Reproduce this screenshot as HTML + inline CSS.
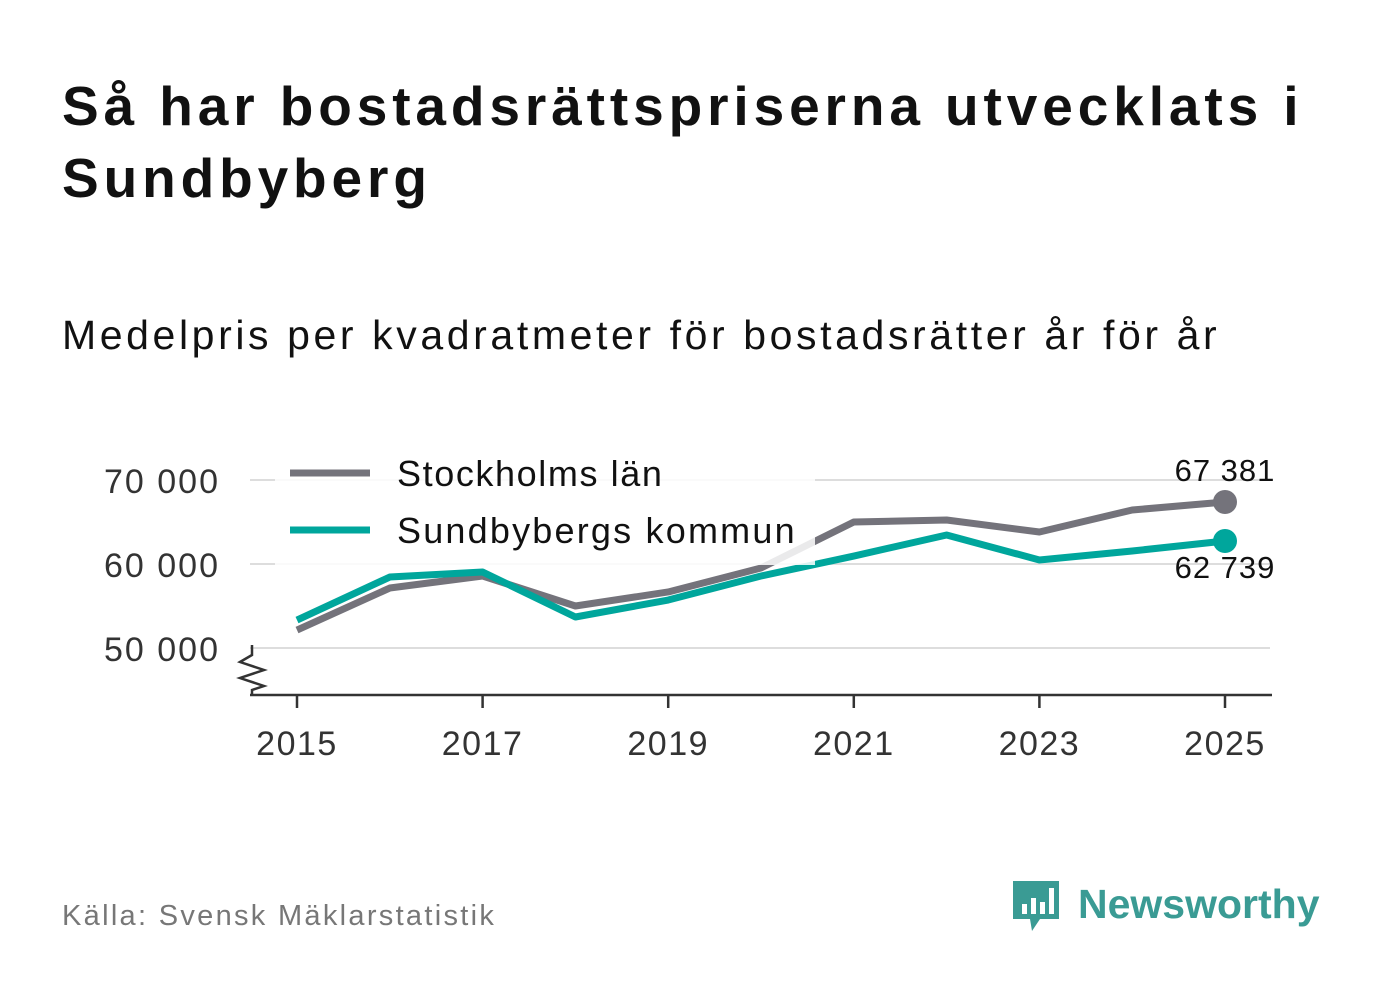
<!DOCTYPE html>
<html><head><meta charset="utf-8"><style>
body{margin:0;width:1382px;height:999px;background:#fff;font-family:"Liberation Sans",sans-serif;overflow:hidden;position:relative}
#title{position:absolute;left:62px;top:70px;font-size:55px;font-weight:bold;color:#111;line-height:72px;width:1320px;letter-spacing:4.9px}
#sub{position:absolute;left:62px;top:312px;font-size:41px;color:#111;letter-spacing:3.6px}
#src{position:absolute;left:62px;top:900px;font-size:29px;color:#777;letter-spacing:2.3px}
#logo{position:absolute;left:1010px;top:878px}
</style></head><body>
<div id="title">Så har bostadsrättspriserna utvecklats i Sundbyberg</div>
<div id="sub">Medelpris per kvadratmeter för bostadsrätter år för år</div>
<svg id="chart" width="1382" height="999" style="position:absolute;left:0;top:0"></svg>
<div id="src">Källa: Svensk Mäklarstatistik</div>
<svg id="logo" width="320" height="65">
<path d="M3 3h46v38H30l-8 12-2-12H3z" fill="#3a9b94"/>
<rect x="12" y="26" width="5" height="10" fill="#fff"/><rect x="21" y="20" width="5" height="16" fill="#fff"/><rect x="30" y="24" width="5" height="12" fill="#fff"/><rect x="39" y="10" width="5" height="26" fill="#fff"/>
<text x="68" y="40" font-size="41" font-weight="bold" fill="#3a9b94" font-family="Liberation Sans,sans-serif">Newsworthy</text>
</svg>
<script>
const years=[2015,2016,2017,2018,2019,2020,2021,2022,2023,2024,2025];
const sthlm=[52140,57140,58570,55000,56670,59520,65000,65240,63810,66430,67381];
const sundby=[53330,58450,59050,53690,55710,58570,60950,63450,60480,61550,62739];
const yTicks=[50000,60000,70000];
const yTickLabels=["50 000","60 000","70 000"];
const xTicks=[2015,2017,2019,2021,2023,2025];
const ns="http://www.w3.org/2000/svg";
const svg=document.getElementById('chart');
const X=v=>297+(v-2015)*92.8;
const Y=v=>648-(v-50000)*0.0084;
function mk(t,a,p){const e=document.createElementNS(ns,t);for(const k in a)e.setAttribute(k,a[k]);(p||svg).appendChild(e);return e;}
yTicks.forEach((v,i)=>{
 const g=mk('line',{x1:250,x2:1270,y1:Y(v),y2:Y(v),stroke:'#ddd','stroke-width':2});
 
 
 const t=mk('text',{x:220,y:Y(v)+13,'text-anchor':'end','font-size':34,fill:'#333','letter-spacing':2});t.textContent=yTickLabels[i];
 
 
});
const ax=mk('path',{d:'M250 695H1272',stroke:'#333','stroke-width':2.5,fill:'none'});


const br=mk('path',{d:'M252 645V655L240 662L264 670L240 678L264 686L252 690V695',stroke:'#333','stroke-width':2.5,fill:'none'});


xTicks.forEach(v=>{
 mk('line',{x1:X(v),x2:X(v),y1:695,y2:708,stroke:'#333','stroke-width':2.5});
 const t=mk('text',{x:X(v),y:755,'text-anchor':'middle','font-size':34,fill:'#333','letter-spacing':1.5});t.textContent=v;
 
 
});
function line(data,col,name){
 const p=mk('path',{d:data.map((v,i)=>(i?'L':'M')+X(years[i])+' '+Y(v)).join(''),stroke:col,'stroke-width':7,fill:'none','stroke-linejoin':'round'});
 
 
 const c=mk('circle',{cx:X(years[years.length-1]),cy:Y(data[data.length-1]),r:12,fill:col});
 
 
}
line(sthlm,'#74737b','stockholm-line');
line(sundby,'#00a69c','sundbyberg-line');
const bg=mk('rect',{x:275,y:447,width:540,height:118,fill:'#fff',opacity:0.85});


[['Stockholms län','#74737b',473,1.6],['Sundbybergs kommun','#00a69c',530,2.2]].forEach(([n,c,y,ls])=>{
 const l=mk('line',{x1:290,x2:370,y1:y,y2:y,stroke:c,'stroke-width':7});
 
 
 const t=mk('text',{x:397,y:y+13,'font-size':36,fill:'#111','letter-spacing':ls});t.textContent=n;
 
 
});
const l1=mk('text',{x:1225,y:481,'text-anchor':'middle','font-size':31,fill:'#111','letter-spacing':1});l1.textContent='67 381';


const l2=mk('text',{x:1225,y:578,'text-anchor':'middle','font-size':31,fill:'#111','letter-spacing':1});l2.textContent='62 739';


</script>
</body></html>
